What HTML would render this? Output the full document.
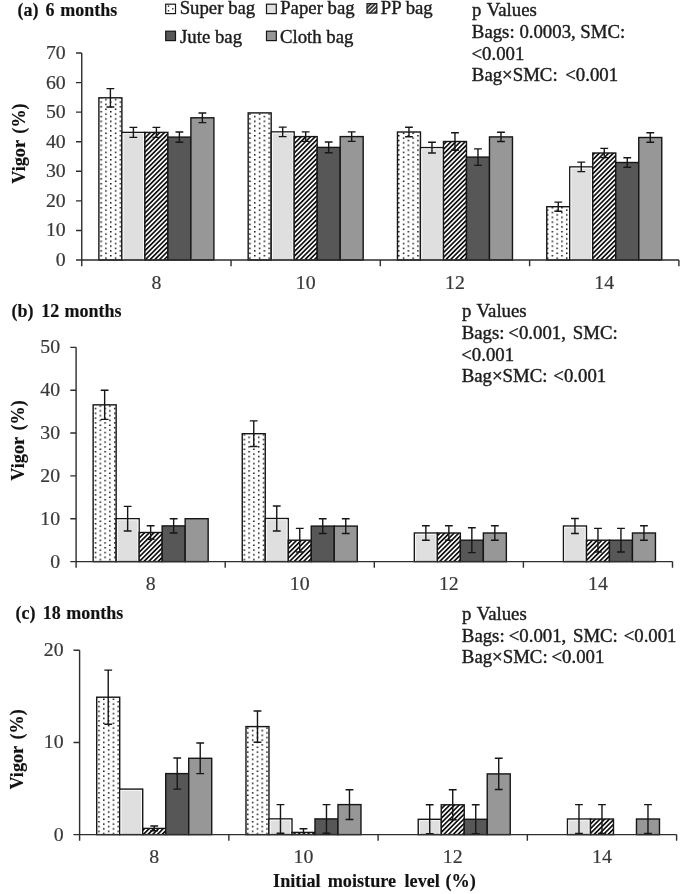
<!DOCTYPE html>
<html><head><meta charset="utf-8"><title>Vigor chart</title>
<style>
html,body{margin:0;padding:0;background:#fff;}
body{width:685px;height:894px;overflow:hidden;}
svg{display:block;filter:blur(0.35px);}
text{font-family:"Liberation Serif",serif;}
.r{fill:#1c1c1c;stroke:#1c1c1c;stroke-width:0.4px;}
.b{font-weight:bold;fill:#121212;stroke:#121212;stroke-width:0.15px;}
.t{fill:#383838;stroke:#383838;stroke-width:0.2px;}
</style></head><body>
<svg width="685" height="894" viewBox="0 0 685 894">
<defs>
<pattern id="dots" patternUnits="userSpaceOnUse" x="0" y="0" width="9.6" height="4.8"><rect width="9.6" height="4.8" fill="#fff"/><rect x="1.7" y="0.5" width="1.5" height="1.5" fill="#111"/><rect x="6.5" y="2.9" width="1.5" height="1.5" fill="#111"/></pattern>
<pattern id="diag" patternUnits="userSpaceOnUse" width="3.32" height="3.32" patternTransform="rotate(-45)"><rect width="3.32" height="3.32" fill="#fff"/><rect y="0" width="3.32" height="1.7" fill="#111"/></pattern>
<pattern id="diagL" patternUnits="userSpaceOnUse" width="3.0" height="3.0" patternTransform="translate(372.1 9) rotate(-45) translate(0 -0.7)"><rect width="3.0" height="3.0" fill="#111"/><rect y="0" width="3.0" height="1.4" fill="#fff"/></pattern>
</defs>
<rect width="685" height="894" fill="#fff"/>
<pattern id="dotsa" patternUnits="userSpaceOnUse" x="81.2" y="259.75" width="9.6" height="4.8"><rect width="9.6" height="4.8" fill="#fff"/><rect x="0" y="0" width="1.5" height="1.5" fill="#111"/><rect x="4.8" y="2.4" width="1.5" height="1.5" fill="#111"/></pattern>
<rect x="98.89" y="97.8" width="23" height="162.2" fill="url(#dotsa)" stroke="#161616" stroke-width="1.4"/>
<rect x="121.89" y="132.4" width="23" height="127.6" fill="#dfdfdf" stroke="#161616" stroke-width="1.4"/>
<rect x="123.19" y="133.7" width="20.4" height="126.3" fill="none" stroke="#fafafa" stroke-width="0.9"/>
<rect x="144.89" y="132.4" width="23" height="127.6" fill="url(#diag)" stroke="#161616" stroke-width="1.4"/>
<rect x="167.89" y="137.1" width="23" height="122.9" fill="#575757" stroke="#161616" stroke-width="1.4"/>
<rect x="190.89" y="117.8" width="23" height="142.2" fill="#979797" stroke="#161616" stroke-width="1.4"/>
<rect x="248.18" y="112.9" width="23" height="147.1" fill="url(#dotsa)" stroke="#161616" stroke-width="1.4"/>
<rect x="271.18" y="131.9" width="23" height="128.1" fill="#dfdfdf" stroke="#161616" stroke-width="1.4"/>
<rect x="272.48" y="133.2" width="20.4" height="126.8" fill="none" stroke="#fafafa" stroke-width="0.9"/>
<rect x="294.18" y="136.6" width="23" height="123.4" fill="url(#diag)" stroke="#161616" stroke-width="1.4"/>
<rect x="317.18" y="147.4" width="23" height="112.6" fill="#575757" stroke="#161616" stroke-width="1.4"/>
<rect x="340.18" y="136.6" width="23" height="123.4" fill="#979797" stroke="#161616" stroke-width="1.4"/>
<rect x="397.47" y="132" width="23" height="128" fill="url(#dotsa)" stroke="#161616" stroke-width="1.4"/>
<rect x="420.47" y="147.6" width="23" height="112.4" fill="#dfdfdf" stroke="#161616" stroke-width="1.4"/>
<rect x="421.77" y="148.9" width="20.4" height="111.1" fill="none" stroke="#fafafa" stroke-width="0.9"/>
<rect x="443.47" y="141.5" width="23" height="118.5" fill="url(#diag)" stroke="#161616" stroke-width="1.4"/>
<rect x="466.47" y="157.1" width="23" height="102.9" fill="#575757" stroke="#161616" stroke-width="1.4"/>
<rect x="489.47" y="136.9" width="23" height="123.1" fill="#979797" stroke="#161616" stroke-width="1.4"/>
<rect x="546.76" y="206.7" width="23" height="53.3" fill="url(#dotsa)" stroke="#161616" stroke-width="1.4"/>
<rect x="569.76" y="166.9" width="23" height="93.1" fill="#dfdfdf" stroke="#161616" stroke-width="1.4"/>
<rect x="571.06" y="168.2" width="20.4" height="91.8" fill="none" stroke="#fafafa" stroke-width="0.9"/>
<rect x="592.76" y="153" width="23" height="107" fill="url(#diag)" stroke="#161616" stroke-width="1.4"/>
<rect x="615.76" y="162.5" width="23" height="97.5" fill="#575757" stroke="#161616" stroke-width="1.4"/>
<rect x="638.76" y="137.5" width="23" height="122.5" fill="#979797" stroke="#161616" stroke-width="1.4"/>
<path d="M110.39 88.6V107M106.49 88.6H114.29M106.49 107H114.29" stroke="#161616" stroke-width="1.4" fill="none"/>
<path d="M133.39 127.4V137.4M129.49 127.4H137.29M129.49 137.4H137.29" stroke="#161616" stroke-width="1.4" fill="none"/>
<path d="M156.39 127.4V137.4M152.49 127.4H160.29M152.49 137.4H160.29" stroke="#161616" stroke-width="1.4" fill="none"/>
<path d="M179.39 132V142.2M175.49 132H183.29M175.49 142.2H183.29" stroke="#161616" stroke-width="1.4" fill="none"/>
<path d="M202.39 112.95V122.65M198.49 112.95H206.29M198.49 122.65H206.29" stroke="#161616" stroke-width="1.4" fill="none"/>
<path d="M282.68 127.15V136.65M278.78 127.15H286.58M278.78 136.65H286.58" stroke="#161616" stroke-width="1.4" fill="none"/>
<path d="M305.68 131.85V141.35M301.78 131.85H309.58M301.78 141.35H309.58" stroke="#161616" stroke-width="1.4" fill="none"/>
<path d="M328.68 142V152.8M324.78 142H332.58M324.78 152.8H332.58" stroke="#161616" stroke-width="1.4" fill="none"/>
<path d="M351.68 131.85V141.35M347.78 131.85H355.58M347.78 141.35H355.58" stroke="#161616" stroke-width="1.4" fill="none"/>
<path d="M408.97 127.25V136.75M405.07 127.25H412.87M405.07 136.75H412.87" stroke="#161616" stroke-width="1.4" fill="none"/>
<path d="M431.97 142.2V153M428.07 142.2H435.87M428.07 153H435.87" stroke="#161616" stroke-width="1.4" fill="none"/>
<path d="M454.97 132.75V150.25M451.07 132.75H458.87M451.07 150.25H458.87" stroke="#161616" stroke-width="1.4" fill="none"/>
<path d="M477.97 148.85V165.35M474.07 148.85H481.87M474.07 165.35H481.87" stroke="#161616" stroke-width="1.4" fill="none"/>
<path d="M500.97 132.25V141.55M497.07 132.25H504.87M497.07 141.55H504.87" stroke="#161616" stroke-width="1.4" fill="none"/>
<path d="M558.26 202.15V211.25M554.36 202.15H562.16M554.36 211.25H562.16" stroke="#161616" stroke-width="1.4" fill="none"/>
<path d="M581.26 162.15V171.65M577.36 162.15H585.16M577.36 171.65H585.16" stroke="#161616" stroke-width="1.4" fill="none"/>
<path d="M604.26 148.35V157.65M600.36 148.35H608.16M600.36 157.65H608.16" stroke="#161616" stroke-width="1.4" fill="none"/>
<path d="M627.26 157.75V167.25M623.36 157.75H631.16M623.36 167.25H631.16" stroke="#161616" stroke-width="1.4" fill="none"/>
<path d="M650.26 132.8V142.2M646.36 132.8H654.16M646.36 142.2H654.16" stroke="#161616" stroke-width="1.4" fill="none"/>
<path d="M81.75 53.01V266.2M76 260H678.9M76 230.43H81.75M76 200.86H81.75M76 171.29H81.75M76 141.72H81.75M76 112.15H81.75M76 82.58H81.75M76 53.01H81.75M231.04 260V266.2M380.32 260V266.2M529.61 260V266.2M678.9 260V266.2" stroke="#2e2e2e" stroke-width="1.4" fill="none"/>
<text class="t" x="65.75" y="266" font-size="19.8" text-anchor="end">0</text>
<text class="t" x="65.75" y="236.43" font-size="19.8" text-anchor="end">10</text>
<text class="t" x="65.75" y="206.86" font-size="19.8" text-anchor="end">20</text>
<text class="t" x="65.75" y="177.29" font-size="19.8" text-anchor="end">30</text>
<text class="t" x="65.75" y="147.72" font-size="19.8" text-anchor="end">40</text>
<text class="t" x="65.75" y="118.15" font-size="19.8" text-anchor="end">50</text>
<text class="t" x="65.75" y="88.58" font-size="19.8" text-anchor="end">60</text>
<text class="t" x="65.75" y="59.01" font-size="19.8" text-anchor="end">70</text>
<text class="t" x="156.39" y="288.6" font-size="19.8" text-anchor="middle">8</text>
<text class="t" x="305.68" y="288.6" font-size="19.8" text-anchor="middle">10</text>
<text class="t" x="454.97" y="288.6" font-size="19.8" text-anchor="middle">12</text>
<text class="t" x="604.26" y="288.6" font-size="19.8" text-anchor="middle">14</text>
<text class="b" x="17.61" y="15.7" font-size="18">(a)</text>
<text class="b" x="45.38" y="15.7" font-size="18">6</text>
<text class="b" x="60.32" y="15.7" font-size="18">months</text>
<text class="b" transform="translate(25.42 161.85) rotate(-90)" x="0" y="0" font-size="18.2" text-anchor="middle">Vigor</text>
<text class="b" transform="translate(25.42 118.5) rotate(-90)" x="0" y="0" font-size="18.2" text-anchor="middle">(%)</text>
<text class="r" x="471.9" y="15.7" font-size="18.8">p</text>
<text class="r" x="486.79" y="15.7" font-size="18.8">Values</text>
<text class="r" x="471.86" y="37.6" font-size="18.8">Bags:</text>
<text class="r" x="519.38" y="37.6" font-size="18.8">0.0003,</text>
<text class="r" x="580.34" y="37.6" font-size="18.8">SMC:</text>
<text class="r" x="471.46" y="59.5" font-size="18.8">&lt;0.001</text>
<text class="r" x="471.86" y="81.4" font-size="18.8">Bag×SMC:</text>
<text class="r" x="565.26" y="81.4" font-size="18.8">&lt;0.001</text>
<pattern id="dotsb" patternUnits="userSpaceOnUse" x="75.55" y="561.35" width="9.6" height="4.8"><rect width="9.6" height="4.8" fill="#fff"/><rect x="0" y="0" width="1.5" height="1.5" fill="#111"/><rect x="4.8" y="2.4" width="1.5" height="1.5" fill="#111"/></pattern>
<rect x="93.15" y="404.85" width="23" height="156.75" fill="url(#dotsb)" stroke="#161616" stroke-width="1.4"/>
<rect x="116.15" y="518.7" width="23" height="42.9" fill="#dfdfdf" stroke="#161616" stroke-width="1.4"/>
<rect x="117.45" y="520" width="20.4" height="41.6" fill="none" stroke="#fafafa" stroke-width="0.9"/>
<rect x="139.15" y="532.5" width="23" height="29.1" fill="url(#diag)" stroke="#161616" stroke-width="1.4"/>
<rect x="162.15" y="525.9" width="23" height="35.7" fill="#575757" stroke="#161616" stroke-width="1.4"/>
<rect x="185.15" y="518.7" width="23" height="42.9" fill="#979797" stroke="#161616" stroke-width="1.4"/>
<rect x="242.25" y="433.7" width="23" height="127.9" fill="url(#dotsb)" stroke="#161616" stroke-width="1.4"/>
<rect x="265.25" y="518.5" width="23" height="43.1" fill="#dfdfdf" stroke="#161616" stroke-width="1.4"/>
<rect x="266.55" y="519.8" width="20.4" height="41.8" fill="none" stroke="#fafafa" stroke-width="0.9"/>
<rect x="288.25" y="540.2" width="23" height="21.4" fill="url(#diag)" stroke="#161616" stroke-width="1.4"/>
<rect x="311.25" y="526.1" width="23" height="35.5" fill="#575757" stroke="#161616" stroke-width="1.4"/>
<rect x="334.25" y="526.1" width="23" height="35.5" fill="#979797" stroke="#161616" stroke-width="1.4"/>
<rect x="414.35" y="533" width="23" height="28.6" fill="#dfdfdf" stroke="#161616" stroke-width="1.4"/>
<rect x="415.65" y="534.3" width="20.4" height="27.3" fill="none" stroke="#fafafa" stroke-width="0.9"/>
<rect x="437.35" y="533" width="23" height="28.6" fill="url(#diag)" stroke="#161616" stroke-width="1.4"/>
<rect x="460.35" y="540.2" width="23" height="21.4" fill="#575757" stroke="#161616" stroke-width="1.4"/>
<rect x="483.35" y="533" width="23" height="28.6" fill="#979797" stroke="#161616" stroke-width="1.4"/>
<rect x="563.45" y="526" width="23" height="35.6" fill="#dfdfdf" stroke="#161616" stroke-width="1.4"/>
<rect x="564.75" y="527.3" width="20.4" height="34.3" fill="none" stroke="#fafafa" stroke-width="0.9"/>
<rect x="586.45" y="540.2" width="23" height="21.4" fill="url(#diag)" stroke="#161616" stroke-width="1.4"/>
<rect x="609.45" y="540.2" width="23" height="21.4" fill="#575757" stroke="#161616" stroke-width="1.4"/>
<rect x="632.45" y="533" width="23" height="28.6" fill="#979797" stroke="#161616" stroke-width="1.4"/>
<path d="M104.65 390.3V419.4M100.75 390.3H108.55M100.75 419.4H108.55" stroke="#161616" stroke-width="1.4" fill="none"/>
<path d="M127.65 506.4V531M123.75 506.4H131.55M123.75 531H131.55" stroke="#161616" stroke-width="1.4" fill="none"/>
<path d="M150.65 525.8V539.2M146.75 525.8H154.55M146.75 539.2H154.55" stroke="#161616" stroke-width="1.4" fill="none"/>
<path d="M173.65 518.8V533M169.75 518.8H177.55M169.75 533H177.55" stroke="#161616" stroke-width="1.4" fill="none"/>
<path d="M253.75 420.9V446.5M249.85 420.9H257.65M249.85 446.5H257.65" stroke="#161616" stroke-width="1.4" fill="none"/>
<path d="M276.75 505.95V531.05M272.85 505.95H280.65M272.85 531.05H280.65" stroke="#161616" stroke-width="1.4" fill="none"/>
<path d="M299.75 528.4V552M295.85 528.4H303.65M295.85 552H303.65" stroke="#161616" stroke-width="1.4" fill="none"/>
<path d="M322.75 518.75V533.45M318.85 518.75H326.65M318.85 533.45H326.65" stroke="#161616" stroke-width="1.4" fill="none"/>
<path d="M345.75 518.75V533.45M341.85 518.75H349.65M341.85 533.45H349.65" stroke="#161616" stroke-width="1.4" fill="none"/>
<path d="M425.85 525.75V540.25M421.95 525.75H429.75M421.95 540.25H429.75" stroke="#161616" stroke-width="1.4" fill="none"/>
<path d="M448.85 525.75V540.25M444.95 525.75H452.75M444.95 540.25H452.75" stroke="#161616" stroke-width="1.4" fill="none"/>
<path d="M471.85 527.75V552.65M467.95 527.75H475.75M467.95 552.65H475.75" stroke="#161616" stroke-width="1.4" fill="none"/>
<path d="M494.85 525.75V540.25M490.95 525.75H498.75M490.95 540.25H498.75" stroke="#161616" stroke-width="1.4" fill="none"/>
<path d="M574.95 518.5V533.5M571.05 518.5H578.85M571.05 533.5H578.85" stroke="#161616" stroke-width="1.4" fill="none"/>
<path d="M597.95 528.4V552M594.05 528.4H601.85M594.05 552H601.85" stroke="#161616" stroke-width="1.4" fill="none"/>
<path d="M620.95 528.4V552M617.05 528.4H624.85M617.05 552H624.85" stroke="#161616" stroke-width="1.4" fill="none"/>
<path d="M643.95 525.75V540.25M640.05 525.75H647.85M640.05 540.25H647.85" stroke="#161616" stroke-width="1.4" fill="none"/>
<path d="M76.1 347.35V567.8M70.3 561.6H672.5M70.3 518.75H76.1M70.3 475.9H76.1M70.3 433.05H76.1M70.3 390.2H76.1M70.3 347.35H76.1M225.2 561.6V567.8M374.3 561.6V567.8M523.4 561.6V567.8M672.5 561.6V567.8" stroke="#2e2e2e" stroke-width="1.4" fill="none"/>
<text class="t" x="60.1" y="567.6" font-size="19.8" text-anchor="end">0</text>
<text class="t" x="60.1" y="524.75" font-size="19.8" text-anchor="end">10</text>
<text class="t" x="60.1" y="481.9" font-size="19.8" text-anchor="end">20</text>
<text class="t" x="60.1" y="439.05" font-size="19.8" text-anchor="end">30</text>
<text class="t" x="60.1" y="396.2" font-size="19.8" text-anchor="end">40</text>
<text class="t" x="60.1" y="353.35" font-size="19.8" text-anchor="end">50</text>
<text class="t" x="150.65" y="590.2" font-size="19.8" text-anchor="middle">8</text>
<text class="t" x="299.75" y="590.2" font-size="19.8" text-anchor="middle">10</text>
<text class="t" x="448.85" y="590.2" font-size="19.8" text-anchor="middle">12</text>
<text class="t" x="597.95" y="590.2" font-size="19.8" text-anchor="middle">14</text>
<text class="b" x="11.61" y="316.8" font-size="18">(b)</text>
<text class="b" x="41.16" y="316.8" font-size="18">12</text>
<text class="b" x="64.42" y="316.8" font-size="18">months</text>
<text class="b" transform="translate(23.72 458.75) rotate(-90)" x="0" y="0" font-size="18.2" text-anchor="middle">Vigor</text>
<text class="b" transform="translate(23.72 415.4) rotate(-90)" x="0" y="0" font-size="18.2" text-anchor="middle">(%)</text>
<text class="r" x="461.9" y="316.7" font-size="18.8">p</text>
<text class="r" x="476.59" y="316.7" font-size="18.8">Values</text>
<text class="r" x="461.66" y="338.6" font-size="18.8">Bags:</text>
<text class="r" x="508.36" y="338.6" font-size="18.8">&lt;0.001,</text>
<text class="r" x="572.84" y="338.6" font-size="18.8">SMC:</text>
<text class="r" x="461.26" y="360.5" font-size="18.8">&lt;0.001</text>
<text class="r" x="461.66" y="382.4" font-size="18.8">Bag×SMC:</text>
<text class="r" x="553.36" y="382.4" font-size="18.8">&lt;0.001</text>
<pattern id="dotsc" patternUnits="userSpaceOnUse" x="79.05" y="835.35" width="9.6" height="4.8"><rect width="9.6" height="4.8" fill="#fff"/><rect x="0" y="0" width="1.5" height="1.5" fill="#111"/><rect x="4.8" y="2.4" width="1.5" height="1.5" fill="#111"/></pattern>
<rect x="96.72" y="697.2" width="23" height="137.4" fill="url(#dotsc)" stroke="#161616" stroke-width="1.4"/>
<rect x="119.72" y="789.1" width="23" height="45.5" fill="#dfdfdf" stroke="#161616" stroke-width="1.4"/>
<rect x="121.02" y="790.4" width="20.4" height="44.2" fill="none" stroke="#fafafa" stroke-width="0.9"/>
<rect x="142.72" y="828.4" width="23" height="6.2" fill="url(#diag)" stroke="#161616" stroke-width="1.4"/>
<rect x="165.72" y="773.6" width="23" height="61" fill="#575757" stroke="#161616" stroke-width="1.4"/>
<rect x="188.72" y="758.3" width="23" height="76.3" fill="#979797" stroke="#161616" stroke-width="1.4"/>
<rect x="245.97" y="726.6" width="23" height="108" fill="url(#dotsc)" stroke="#161616" stroke-width="1.4"/>
<rect x="268.98" y="818.9" width="23" height="15.7" fill="#dfdfdf" stroke="#161616" stroke-width="1.4"/>
<rect x="270.28" y="820.2" width="20.4" height="14.4" fill="none" stroke="#fafafa" stroke-width="0.9"/>
<rect x="291.98" y="832.4" width="23" height="2.2" fill="url(#diag)" stroke="#161616" stroke-width="1.4"/>
<rect x="314.98" y="818.9" width="23" height="15.7" fill="#575757" stroke="#161616" stroke-width="1.4"/>
<rect x="337.98" y="804.6" width="23" height="30" fill="#979797" stroke="#161616" stroke-width="1.4"/>
<rect x="418.23" y="819.3" width="23" height="15.3" fill="#dfdfdf" stroke="#161616" stroke-width="1.4"/>
<rect x="419.53" y="820.6" width="20.4" height="14" fill="none" stroke="#fafafa" stroke-width="0.9"/>
<rect x="441.23" y="804.8" width="23" height="29.8" fill="url(#diag)" stroke="#161616" stroke-width="1.4"/>
<rect x="464.23" y="819.3" width="23" height="15.3" fill="#575757" stroke="#161616" stroke-width="1.4"/>
<rect x="487.23" y="773.9" width="23" height="60.7" fill="#979797" stroke="#161616" stroke-width="1.4"/>
<rect x="567.48" y="819" width="23" height="15.6" fill="#dfdfdf" stroke="#161616" stroke-width="1.4"/>
<rect x="568.77" y="820.3" width="20.4" height="14.3" fill="none" stroke="#fafafa" stroke-width="0.9"/>
<rect x="590.48" y="819" width="23" height="15.6" fill="url(#diag)" stroke="#161616" stroke-width="1.4"/>
<rect x="636.48" y="819" width="23" height="15.6" fill="#979797" stroke="#161616" stroke-width="1.4"/>
<path d="M108.22 670.1V724.3M104.32 670.1H112.12M104.32 724.3H112.12" stroke="#161616" stroke-width="1.4" fill="none"/>
<path d="M154.22 826V830.8M150.32 826H158.12M150.32 830.8H158.12" stroke="#161616" stroke-width="1.4" fill="none"/>
<path d="M177.22 758.05V789.15M173.32 758.05H181.12M173.32 789.15H181.12" stroke="#161616" stroke-width="1.4" fill="none"/>
<path d="M200.22 743V773.6M196.32 743H204.12M196.32 773.6H204.12" stroke="#161616" stroke-width="1.4" fill="none"/>
<path d="M257.48 710.95V742.25M253.58 710.95H261.38M253.58 742.25H261.38" stroke="#161616" stroke-width="1.4" fill="none"/>
<path d="M280.48 804.6V833.2M276.58 804.6H284.38M276.58 833.2H284.38" stroke="#161616" stroke-width="1.4" fill="none"/>
<path d="M303.48 828.8V834.6M299.58 828.8H307.38" stroke="#161616" stroke-width="1.4" fill="none"/>
<path d="M326.48 804.6V833.2M322.58 804.6H330.38M322.58 833.2H330.38" stroke="#161616" stroke-width="1.4" fill="none"/>
<path d="M349.48 789.7V819.5M345.58 789.7H353.38M345.58 819.5H353.38" stroke="#161616" stroke-width="1.4" fill="none"/>
<path d="M429.73 804.8V833.8M425.83 804.8H433.62M425.83 833.8H433.62" stroke="#161616" stroke-width="1.4" fill="none"/>
<path d="M452.73 789.8V819.8M448.83 789.8H456.62M448.83 819.8H456.62" stroke="#161616" stroke-width="1.4" fill="none"/>
<path d="M475.73 804.8V833.8M471.83 804.8H479.62M471.83 833.8H479.62" stroke="#161616" stroke-width="1.4" fill="none"/>
<path d="M498.73 758.25V789.55M494.83 758.25H502.62M494.83 789.55H502.62" stroke="#161616" stroke-width="1.4" fill="none"/>
<path d="M578.98 804.6V833.4M575.08 804.6H582.88M575.08 833.4H582.88" stroke="#161616" stroke-width="1.4" fill="none"/>
<path d="M601.98 804.6V833.4M598.08 804.6H605.88M598.08 833.4H605.88" stroke="#161616" stroke-width="1.4" fill="none"/>
<path d="M647.98 804.6V833.4M644.08 804.6H651.88M644.08 833.4H651.88" stroke="#161616" stroke-width="1.4" fill="none"/>
<path d="M79.6 650.3V840.8M73.5 834.6H676.6M73.5 742.45H79.6M73.5 650.3H79.6M228.85 834.6V840.8M378.1 834.6V840.8M527.35 834.6V840.8M676.6 834.6V840.8" stroke="#2e2e2e" stroke-width="1.4" fill="none"/>
<text class="t" x="63.6" y="840.6" font-size="19.8" text-anchor="end">0</text>
<text class="t" x="63.6" y="748.45" font-size="19.8" text-anchor="end">10</text>
<text class="t" x="63.6" y="656.3" font-size="19.8" text-anchor="end">20</text>
<text class="t" x="154.22" y="863.2" font-size="19.8" text-anchor="middle">8</text>
<text class="t" x="303.48" y="863.2" font-size="19.8" text-anchor="middle">10</text>
<text class="t" x="452.73" y="863.2" font-size="19.8" text-anchor="middle">12</text>
<text class="t" x="601.98" y="863.2" font-size="19.8" text-anchor="middle">14</text>
<text class="b" x="15.51" y="619.1" font-size="18">(c)</text>
<text class="b" x="42.66" y="619.1" font-size="18">18</text>
<text class="b" x="66.22" y="619.1" font-size="18">months</text>
<text class="b" transform="translate(23.02 767.7) rotate(-90)" x="0" y="0" font-size="18.2" text-anchor="middle">Vigor</text>
<text class="b" transform="translate(23.02 724.35) rotate(-90)" x="0" y="0" font-size="18.2" text-anchor="middle">(%)</text>
<text class="r" x="462.1" y="619.6" font-size="18.8">p</text>
<text class="r" x="476.69" y="619.6" font-size="18.8">Values</text>
<text class="r" x="461.86" y="641.5" font-size="18.8">Bags:</text>
<text class="r" x="508.76" y="641.5" font-size="18.8">&lt;0.001,</text>
<text class="r" x="572.94" y="641.5" font-size="18.8">SMC:</text>
<text class="r" x="623.66" y="641.5" font-size="18.8">&lt;0.001</text>
<text class="r" x="461.86" y="663.4" font-size="18.8">Bag×SMC:</text>
<text class="r" x="551.46" y="663.4" font-size="18.8">&lt;0.001</text>
<rect x="165.7" y="4.2" width="9.8" height="9.4" fill="#fff" stroke="#161616" stroke-width="1.2"/>
<rect x="167.8" y="5.4" width="1.4" height="1.4" fill="#222"/><rect x="167.8" y="10.1" width="1.4" height="1.4" fill="#222"/><rect x="172.1" y="8.1" width="1.4" height="1.4" fill="#222"/>
<text class="r" x="179.64" y="14.2" font-size="18.8">Super bag</text>
<rect x="266.5" y="4.2" width="9.8" height="9.4" fill="#dfdfdf" stroke="#161616" stroke-width="1.2"/>
<text class="r" x="280.16" y="14.2" font-size="18.8">Paper bag</text>
<rect x="367" y="3.7" width="9.8" height="9.4" fill="url(#diagL)" stroke="#161616" stroke-width="1.2"/>
<text class="r" x="380.76" y="14.2" font-size="18.8">PP bag</text>
<rect x="165.7" y="31.2" width="9.8" height="9.4" fill="#575757" stroke="#161616" stroke-width="1.2"/>
<text class="r" x="180.01" y="42.6" font-size="18.8">Jute bag</text>
<rect x="266.5" y="31.2" width="9.8" height="9.4" fill="#979797" stroke="#161616" stroke-width="1.2"/>
<text class="r" x="279.93" y="42.6" font-size="18.8">Cloth bag</text>
<text class="b" x="273.09" y="887" font-size="18.2">Initial</text>
<text class="b" x="327.71" y="887" font-size="18.2">moisture</text>
<text class="b" x="404.54" y="887" font-size="18.2">level</text>
<text class="b" x="445.5" y="887" font-size="18.2">(%)</text>
</svg>
</body></html>
